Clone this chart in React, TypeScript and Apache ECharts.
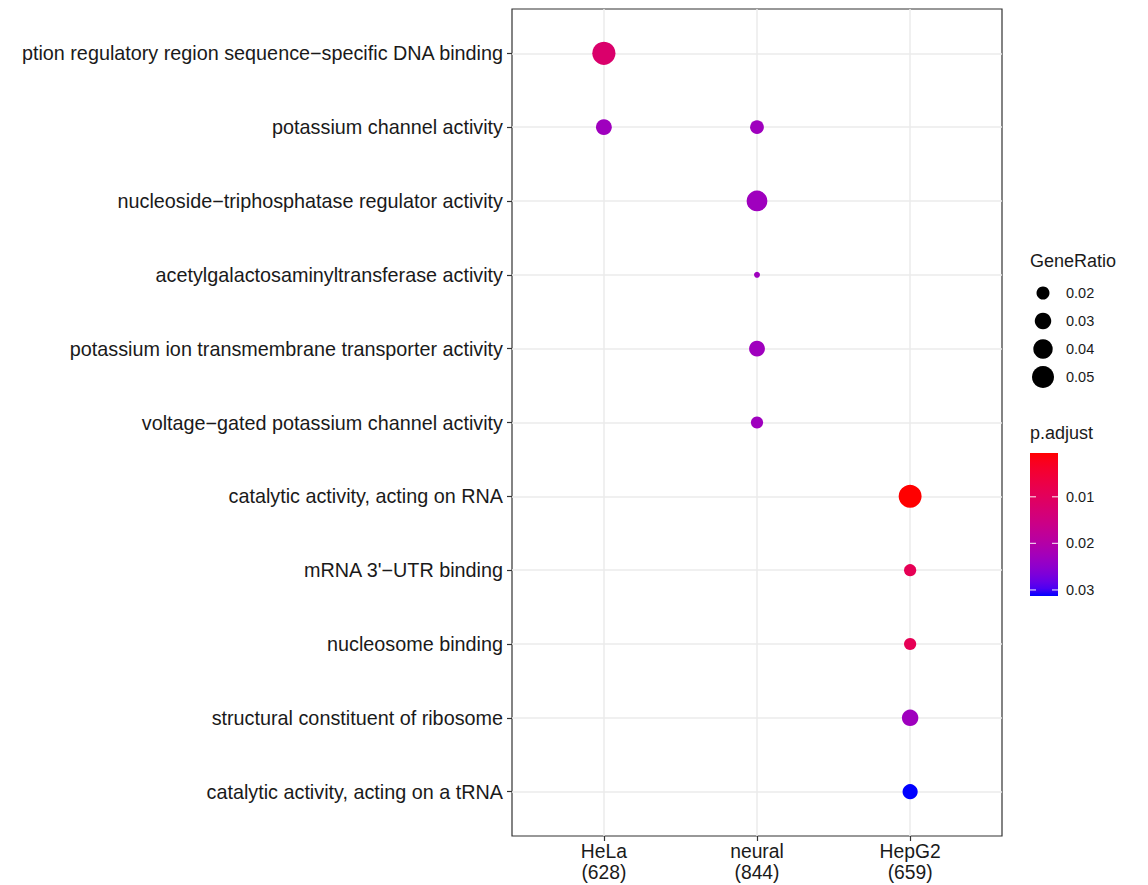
import React, { useEffect, useRef } from "react";
import * as echarts from "echarts";

// ---------- data ----------
const terms = [
  "transcription regulatory region sequence−specific DNA binding",
  "potassium channel activity",
  "nucleoside−triphosphatase regulator activity",
  "acetylgalactosaminyltransferase activity",
  "potassium ion transmembrane transporter activity",
  "voltage−gated potassium channel activity",
  "catalytic activity, acting on RNA",
  "mRNA 3'−UTR binding",
  "nucleosome binding",
  "structural constituent of ribosome",
  "catalytic activity, acting on a tRNA",
];
const clusters = ["HeLa\n(628)", "neural\n(844)", "HepG2\n(659)"];

const pointCluster = [0, 0, 1, 1, 1, 1, 1, 2, 2, 2, 2, 2];
const pointTerm = [0, 1, 1, 2, 3, 4, 5, 6, 7, 8, 9, 10];
const pointGeneRatio = [0.055, 0.028, 0.022, 0.045, 0.006, 0.028, 0.018, 0.054, 0.018, 0.018, 0.03, 0.026];
const pointPAdjust = [0.012, 0.023, 0.023, 0.023, 0.023, 0.023, 0.023, 0.0006, 0.009, 0.009, 0.023, 0.0313];

const sizeLegendValues = [0.02, 0.03, 0.04, 0.05];
const colorLegendTicks = [0.01, 0.02, 0.03];
const pMin = 0.0006;
const pMax = 0.0313;

// ---------- helpers ----------
const sizeFn = (v: number) => Math.max(3, 13 + 109.5 * (Math.sqrt(v) - Math.sqrt(0.02)));

function toLin(c: number) {
  c /= 255;
  return c <= 0.04045 ? c / 12.92 : Math.pow((c + 0.055) / 1.055, 2.4);
}
function fromLin(c: number) {
  const v = c <= 0.0031308 ? 12.92 * c : 1.055 * Math.pow(c, 1 / 2.4) - 0.055;
  return Math.round(Math.max(0, Math.min(1, v)) * 255);
}
function rgbToLab(r: number, g: number, b: number) {
  const R = toLin(r), G = toLin(g), B = toLin(b);
  const X = (0.4124 * R + 0.3576 * G + 0.1805 * B) / 0.95047;
  const Y = 0.2126 * R + 0.7152 * G + 0.0722 * B;
  const Z = (0.0193 * R + 0.1192 * G + 0.9505 * B) / 1.08883;
  const f = (t: number) => (t > 0.008856 ? Math.cbrt(t) : 7.787 * t + 16 / 116);
  const fx = f(X), fy = f(Y), fz = f(Z);
  return [116 * fy - 16, 500 * (fx - fy), 200 * (fy - fz)];
}
function labToRgb(L: number, a: number, b: number) {
  const fy = (L + 16) / 116;
  const fx = fy + a / 500;
  const fz = fy - b / 200;
  const finv = (t: number) => (t * t * t > 0.008856 ? t * t * t : (t - 16 / 116) / 7.787);
  const X = finv(fx) * 0.95047, Y = finv(fy), Z = finv(fz) * 1.08883;
  const R = 3.2406 * X - 1.5372 * Y - 0.4986 * Z;
  const G = -0.9689 * X + 1.8758 * Y + 0.0415 * Z;
  const B = 0.0557 * X - 0.204 * Y + 1.057 * Z;
  return `rgb(${fromLin(R)},${fromLin(G)},${fromLin(B)})`;
}
const labLow = rgbToLab(255, 0, 0);
const labHigh = rgbToLab(0, 0, 255);
const rampStops: string[] = [];
for (let i = 0; i <= 20; i++) {
  const t = i / 20;
  rampStops.push(
    labToRgb(
      labLow[0] + (labHigh[0] - labLow[0]) * t,
      labLow[1] + (labHigh[1] - labLow[1]) * t,
      labLow[2] + (labHigh[2] - labLow[2]) * t
    )
  );
}

// ---------- layout (div starts at page x = 21) ----------
const OX = 21;
const FONT = "'Liberation Sans', Arial, Helvetica, sans-serif";
const TEXT = "#1a1a1a";

export default function App() {
  const ref = useRef<HTMLDivElement>(null);
  useEffect(() => {
    if (!ref.current) return;
    const chart = echarts.init(ref.current, null, { renderer: "svg" });

    const data = pointCluster.map((c, i) => [c, pointTerm[i], pointGeneRatio[i], pointPAdjust[i]]);

    const graphics: any[] = [];
    // size legend
    graphics.push({
      type: "text",
      left: 1030 - OX,
      top: 252,
      style: { text: "GeneRatio", font: `18px ${FONT}`, fill: TEXT },
    });
    const sizeYs = [293, 321, 349, 377];
    sizeLegendValues.forEach((v, i) => {
      graphics.push({
        type: "circle",
        shape: { cx: 1043 - OX, cy: sizeYs[i], r: sizeFn(v) / 2 },
        style: { fill: "#000" },
      });
      graphics.push({
        type: "text",
        x: 1066 - OX,
        y: sizeYs[i],
        style: { text: v.toFixed(2), font: `14.5px ${FONT}`, fill: TEXT, verticalAlign: "middle" },
      });
    });
    // color legend
    const cbX = 1030 - OX, cbY = 453, cbW = 28, cbH = 143;
    graphics.push({
      type: "text",
      left: 1030 - OX,
      top: 424,
      style: { text: "p.adjust", font: `18px ${FONT}`, fill: TEXT },
    });
    graphics.push({
      type: "rect",
      shape: { x: cbX, y: cbY, width: cbW, height: cbH },
      style: {
        fill: new echarts.graphic.LinearGradient(
          0, 0, 0, 1,
          rampStops.map((c, i) => ({ offset: i / (rampStops.length - 1), color: c }))
        ),
      },
    });
    colorLegendTicks.forEach((p) => {
      const y = cbY + ((p - pMin) / (pMax - pMin)) * cbH;
      graphics.push({
        type: "line",
        shape: { x1: cbX, y1: y, x2: cbX + 6, y2: y },
        style: { stroke: "rgba(255,255,255,0.8)", lineWidth: 1.2 },
      });
      graphics.push({
        type: "line",
        shape: { x1: cbX + cbW - 6, y1: y, x2: cbX + cbW, y2: y },
        style: { stroke: "rgba(255,255,255,0.8)", lineWidth: 1.2 },
      });
      graphics.push({
        type: "text",
        x: 1066 - OX,
        y,
        style: { text: p.toFixed(2), font: `14.5px ${FONT}`, fill: TEXT, verticalAlign: "middle" },
      });
    });

    const xIdx = clusters.map((_, i) => i);
    const yIdx = terms.map((_, i) => i);

    chart.setOption({
      animation: false,
      backgroundColor: "#fff",
      textStyle: { fontFamily: FONT },
      grid: {
        left: 512 - OX,
        right: 1127 - (1002 - OX),
        top: 9,
        bottom: 885 - 836,
        containLabel: false,
        outerBoundsMode: "none",
        show: true,
        borderColor: "#333",
        borderWidth: 1.2,
        backgroundColor: "transparent",
      },
      xAxis: {
        type: "value",
        min: -0.6,
        max: 2.6,
        axisLine: { show: false, onZero: false },
        axisTick: { show: true, customValues: xIdx, length: 5, lineStyle: { color: "#333", width: 1.2 } },
        axisLabel: {
          customValues: xIdx,
          formatter: (v: number) => clusters[Math.round(v)],
          fontSize: 19.3,
          color: TEXT,
          lineHeight: 21,
          margin: 5,
          fontFamily: FONT,
        },
        splitLine: { show: true, lineStyle: { color: "#EBEBEB", width: 1.5 } },
      },
      yAxis: {
        type: "value",
        inverse: true,
        min: -0.6,
        max: 10.6,
        axisLine: { show: false, onZero: false },
        axisTick: { show: true, customValues: yIdx, length: 5, lineStyle: { color: "#333", width: 1.2 } },
        axisLabel: {
          customValues: yIdx,
          formatter: (v: number) => terms[Math.round(v)],
          fontSize: 19.8,
          color: TEXT,
          margin: 9,
          fontFamily: FONT,
        },
        splitLine: { show: true, lineStyle: { color: "#EBEBEB", width: 1.5 } },
      },
      visualMap: {
        type: "continuous",
        show: false,
        dimension: 3,
        min: pMin,
        max: pMax,
        seriesIndex: 0,
        inRange: { color: rampStops },
      },
      series: [
        {
          type: "scatter",
          data,
          symbol: "circle",
          symbolSize: (v: number[]) => sizeFn(v[2]),
          itemStyle: { opacity: 1 },
          z: 5,
        },
      ],
      graphic: graphics,
    });
    return () => chart.dispose();
  }, []);

  return (
    <div
      ref={ref}
      style={{ position: "absolute", left: OX, top: 0, width: 1127, height: 885, background: "#fff" }}
    />
  );
}
